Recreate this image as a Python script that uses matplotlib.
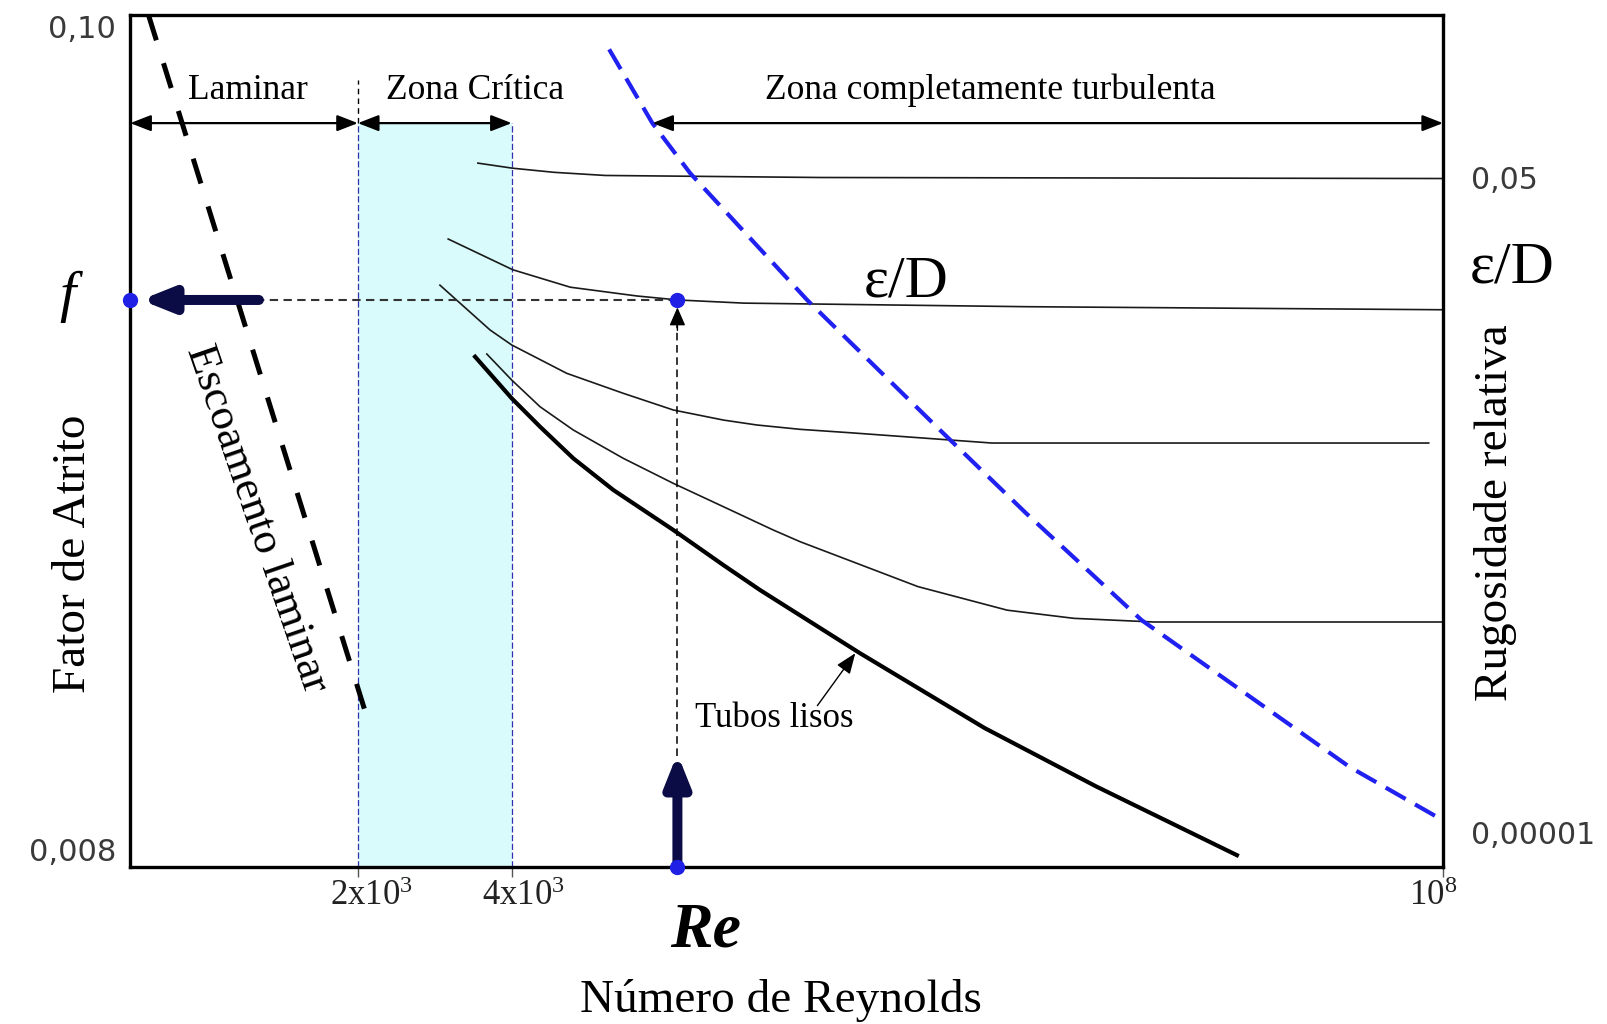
import matplotlib
matplotlib.use("Agg")
import matplotlib.pyplot as plt
from matplotlib.transforms import ScaledTranslation

plt.rcParams["font.family"] = ["Liberation Serif", "DejaVu Serif"]
plt.rcParams["mathtext.fontset"] = "custom"
plt.rcParams["mathtext.rm"] = "Liberation Serif"
plt.rcParams["mathtext.it"] = "Liberation Serif:italic"
plt.rcParams["mathtext.bf"] = "Liberation Serif:bold"

# ---- schematic diagram coordinates (0-100 along Re and along f) ----
re_ticks = [17.34, 29.06, 100.0]
re_tick_labels = ["2x10$^{3}$", "4x10$^{3}$", "10$^{8}$"]
f_ticks = [0.0, 100.0]
f_tick_labels = ["0,008", "0,10"]
rough_ticks = [80.96, 3.98]
rough_tick_labels = ["0,05", "0,00001"]

critical_lo, critical_hi = 17.34, 29.06
turbulent_start = 39.77
regime_band_y = 87.35

laminar_x = [1.4, 18.0]
laminar_y = [100.0, 17.7]

rough1_x = [26.48, 29.14, 32.27, 36.17, 52.58, 100.0]
rough1_y = [82.65, 82.05, 81.57, 81.2, 80.96, 80.84]

rough2_x = [24.22, 29.14, 33.52, 38.59, 41.72, 46.72, 68.2, 100.0]
rough2_y = [73.73, 70.12, 68.07, 67.04, 66.57, 66.2, 65.78, 65.42]

rough3_x = [23.59, 27.41, 29.06, 33.25, 37.56, 41.37, 45.18, 47.73, 51.02, 54.92, 65.63, 98.91]
rough3_y = [68.31, 63.04, 61.28, 57.95, 55.60, 53.64, 52.46, 51.88, 51.37, 50.96, 49.76, 49.76]

rough4_x = [27.16, 29.06, 31.22, 33.75, 37.56, 41.37, 45.18, 48.98, 51.02,
            60.00, 66.80, 71.88, 77.97, 100.0]
rough4_y = [60.22, 57.16, 54.02, 51.29, 47.96, 45.02, 42.28, 39.54, 38.17,
            32.89, 30.12, 29.16, 28.73, 28.73]

smooth_x = [26.27, 29.06, 31.22, 33.75, 36.80, 41.37, 45.18, 47.97, 55.59, 65.08, 73.59, 84.30]
smooth_y = [59.90, 55.01, 51.67, 47.96, 44.24, 39.54, 35.42, 32.49, 25.06, 16.27, 9.40, 1.33]

full_turb_x = [36.48, 39.77, 42.66, 51.56, 61.41, 68.20, 77.03, 92.89, 100.0]
full_turb_y = [96.02, 87.35, 81.45, 66.57, 51.69, 41.57, 28.96, 11.69, 5.42]

re_op = 41.68
f_op = 66.57

NAVY = "#0b0b45"
DOT = "#1f1fe6"
BLUE_DASH = "#2020f0"
GREY_TXT = "#3a3a3a"

fig = plt.figure(figsize=(16.08, 10.24), dpi=100)
ax = fig.add_axes([0.081, 0.1538, 0.8164, 0.8311])
ax.set_xlim(0, 100)
ax.set_ylim(0, 100)
for s in ax.spines.values():
    s.set_linewidth(2.4)
    s.set_color("black")

# critical zone band
ax.fill_between([critical_lo, critical_hi], 0, regime_band_y, color="#d9fbfb", lw=0, zorder=0)
ax.vlines([critical_lo, critical_hi], 0, regime_band_y, colors="#3030b0", lw=0.9,
          linestyles=(0, (5, 2)), zorder=1)
ax.vlines([critical_lo], regime_band_y, 92.4, colors="black", lw=1.0, linestyles=(0, (4, 3)))

# regime arrows and labels
arrow_kw = dict(arrowstyle="<|-|>,head_length=0.9,head_width=0.35", color="black", lw=1.6,
                mutation_scale=14, shrinkA=0, shrinkB=0)
ax.annotate("", xy=(0, regime_band_y), xytext=(critical_lo, regime_band_y), arrowprops=arrow_kw)
ax.annotate("", xy=(critical_lo, regime_band_y), xytext=(critical_hi, regime_band_y), arrowprops=arrow_kw)
ax.annotate("", xy=(turbulent_start, regime_band_y), xytext=(100, regime_band_y),
            arrowprops=arrow_kw, annotation_clip=False)
ax.text(9.0, 91.2, "Laminar", fontsize=25.5, ha="center", va="center")
ax.text(26.3, 91.2, "Zona Crítica", fontsize=25.5, ha="center", va="center")
ax.text(65.5, 91.2, "Zona completamente turbulenta", fontsize=25.5, ha="center", va="center")

# laminar line
ax.plot(laminar_x, laminar_y, color="black", lw=3.6, dashes=(5.2, 4.8), solid_capstyle="butt")
ax.text(9.61, 40.8, "Escoamento laminar", fontsize=32, rotation=-71,
        ha="center", va="center", rotation_mode="anchor")

# relative roughness curves
for xs, ys in [(rough1_x, rough1_y), (rough2_x, rough2_y), (rough3_x, rough3_y), (rough4_x, rough4_y)]:
    ax.plot(xs, ys, color="#1a1a1a", lw=1.2, solid_joinstyle="round")
ax.plot(smooth_x, smooth_y, color="black", lw=3.0, solid_joinstyle="round")

# boundary of fully turbulent zone
ax.plot(full_turb_x, full_turb_y, color=BLUE_DASH, lw=3.0, dashes=(5.5, 2.6), clip_on=False)

# reading of the operating point
ax.plot([9.6, re_op], [f_op, f_op], color="#333333", lw=1.5, dashes=(4, 2.6))
ax.plot([re_op, re_op], [13.0, 64.5], color="black", lw=1.1, dashes=(5, 3))
ax.annotate("", xy=(re_op, 65.7), xytext=(re_op, 63.0),
            arrowprops=dict(arrowstyle="-|>,head_length=0.8,head_width=0.35", color="black",
                            lw=1.0, mutation_scale=14, shrinkA=0, shrinkB=0))
thick = dict(arrowstyle="-|>,head_length=0.7,head_width=0.28", color=NAVY, lw=7.2,
             mutation_scale=26, shrinkA=0, shrinkB=0)
ax.annotate("", xy=(0.8, f_op), xytext=(9.8, f_op), arrowprops=thick)
ax.annotate("", xy=(re_op, 13.25), xytext=(re_op, 0), arrowprops=thick)
ax.plot([0, re_op, re_op], [f_op, f_op, 0], "o", color=DOT, ms=10, clip_on=False, zorder=5)

# labels inside the chart
ax.text(59.1, 68.6, "ε/D", fontsize=43, ha="center", va="center")
ax.text(49.06, 17.35, "Tubos lisos", fontsize=25, ha="center", va="center")
ax.annotate("", xy=(55.23, 25.06), xytext=(52.34, 18.9),
            arrowprops=dict(arrowstyle="-|>,head_length=0.9,head_width=0.35", color="black",
                            lw=1.0, mutation_scale=14, shrinkA=0, shrinkB=0))

# axes ticks
ax.set_xticks(re_ticks)
ax.set_xticklabels(re_tick_labels, fontsize=25)
ax.tick_params(axis="x", length=7, width=1, color="#555555", pad=3, labelcolor="#222222")
for lab, dx in zip(ax.get_xticklabels(), [14, 12, -10]):
    lab.set_transform(lab.get_transform() + ScaledTranslation(dx / 100, 0, fig.dpi_scale_trans))
ax.set_yticks(f_ticks)
ax.set_yticklabels(f_tick_labels, family="DejaVu Sans", fontsize=22, color=GREY_TXT)
ax.tick_params(axis="y", length=0, pad=10)
ax.get_yticklabels()[0].set_va("bottom")
ax.get_yticklabels()[1].set_va("top")

ax2 = ax.twinx()
ax2.set_ylim(0, 100)
ax2.set_yticks(rough_ticks)
ax2.set_yticklabels(rough_tick_labels, family="DejaVu Sans", fontsize=21.5, color=GREY_TXT)
ax2.tick_params(axis="y", length=0, pad=20)
for s in ax2.spines.values():
    s.set_visible(False)

# axis titles
ax.text(-4.8, 66.9, "f", fontsize=42, style="italic", ha="center", va="center", clip_on=False)
ax.text(-4.3, 36.7, "Fator de Atrito", fontsize=34, rotation=90, ha="center", va="center")
ax.text(105.3, 70.3, "ε/D", fontsize=43, ha="center", va="center")
ax.text(104.0, 41.6, "Rugosidade relativa", fontsize=34, rotation=90, ha="center", va="center")
ax.text(43.8, -7.6, "Re", fontsize=46, style="italic", weight="bold", ha="center", va="center")
ax.text(49.6, -15.7, "Número de Reynolds", fontsize=34, ha="center", va="center")

fig.savefig("out.png", dpi=100)
